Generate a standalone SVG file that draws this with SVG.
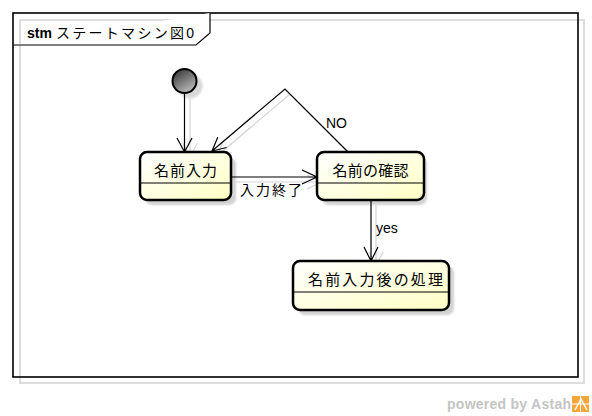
<svg xmlns="http://www.w3.org/2000/svg" width="592" height="416" viewBox="0 0 592 416">
<defs>
<linearGradient id="stFill" x1="0" y1="0" x2="1" y2="1">
<stop offset="0" stop-color="#ffffff"/>
<stop offset="1" stop-color="#ffffc4"/>
</linearGradient>
<linearGradient id="initFill" x1="0" y1="0" x2="0.6" y2="1">
<stop offset="0" stop-color="#2a2a2a"/>
<stop offset="1" stop-color="#b8b8b8"/>
</linearGradient>
<filter id="blur" x="-10%" y="-10%" width="130%" height="130%">
<feGaussianBlur stdDeviation="1"/>
</filter>
</defs>
<style>
.frame{fill:none;stroke:#000;stroke-width:1.6}
.frameShadow{fill:none;stroke:#dddddd;stroke-width:2}
.state{fill:url(#stFill);stroke:#000;stroke-width:2.5}
.shadow{fill:#d2d2d2;filter:url(#blur)}
.sep{stroke:#000;stroke-width:1.2}
.conn{fill:none;stroke:#000;stroke-width:1.2}
.connShadow{fill:none;stroke:#d4d4d4;stroke-width:1.2}
.jp{font-family:"Liberation Sans","Noto Sans CJK JP",sans-serif;font-size:15px;fill:#000}
.lbl{font-family:"Liberation Sans","Noto Sans CJK JP",sans-serif;font-size:14px;fill:#000}
</style>
<rect width="592" height="416" fill="#ffffff"/>
<g id="frame">
<rect class="frameShadow" x="20" y="20" width="564" height="363"/>
<rect class="frame" x="13" y="13" width="565" height="364"/>
<path d="M13,45 H196 L210,33 V13" fill="#ffffff" stroke="#000" stroke-width="1.2"/>
<text x="27" y="38" class="lbl" font-size="15" font-weight="bold" textLength="25" lengthAdjust="spacing">stm</text>
<text x="56" y="38" class="lbl" font-size="15" textLength="138" lengthAdjust="spacing">ステートマシン図0</text>
</g>
<g id="connector-shadows">
<path class="connShadow" d="M190,98 V157 M182.5,143 L190,157 L197.5,143"/>
<path class="connShadow" d="M236,182 H322 M307,175 L322,182 L307,189"/>
<path class="connShadow" d="M353,157 L290,94 L217,156 M231.6,152.5 L217,156 L222.8,142.2"/>
<path class="connShadow" d="M376,205 V266 M369,252 L376,266 L383,252"/>
</g>
<g id="initial">
<circle cx="190" cy="86" r="12.5" fill="#d8d8d8" filter="url(#blur)"/>
<circle cx="184.5" cy="81" r="12" fill="url(#initFill)" stroke="#000" stroke-width="2"/>
</g>
<g id="state-nyuryoku">
<rect class="shadow" x="145" y="157" width="91" height="48" rx="7"/>
<rect class="state" x="140" y="152" width="91" height="48" rx="7"/>
<line class="sep" x1="141" y1="183" x2="230" y2="183"/>
<text class="jp" x="185.5" y="176" text-anchor="middle" textLength="63" lengthAdjust="spacing">名前入力</text>
</g>
<g id="state-kakunin">
<rect class="shadow" x="322" y="157" width="105" height="48" rx="7"/>
<rect class="state" x="317" y="152" width="107" height="48" rx="7"/>
<line class="sep" x1="318" y1="183" x2="423" y2="183"/>
<text class="jp" x="370.5" y="176" text-anchor="middle" textLength="76" lengthAdjust="spacing">名前の確認</text>
</g>
<g id="state-shori">
<rect class="shadow" x="298" y="266" width="156" height="49" rx="7"/>
<rect class="state" x="293" y="261" width="156" height="49" rx="7"/>
<line class="sep" x1="294" y1="292" x2="448" y2="292"/>
<text class="jp" x="375.5" y="285" text-anchor="middle" textLength="135" lengthAdjust="spacing">名前入力後の処理</text>
</g>
<g id="connectors">
<path class="conn" d="M184.5,93 V152 M177,138 L184.5,152 L192,138"/>
<path class="conn" d="M231,177 H317 M302,170 L317,177 L302,184"/>
<text class="lbl" x="240" y="195" textLength="62" lengthAdjust="spacing">入力終了</text>
<path class="conn" d="M348,152 L285,89 L212,151 M226.6,147.5 L212,151 L217.8,137.2"/>
<text class="lbl" x="326" y="128">NO</text>
<path class="conn" d="M371,200 V261 M364,247 L371,261 L378,247"/>
<text class="lbl" x="376" y="233" font-size="14.5">yes</text>
</g>
<g id="watermark">
<text x="447" y="409" font-family="Liberation Sans, sans-serif" font-size="14" font-weight="bold" fill="#c4c4c4" textLength="124" lengthAdjust="spacing">powered by Astah</text>
<rect x="572" y="396" width="17" height="16" fill="#f4a63a"/>
<path d="M572,404 H589 M580.5,396 V412" stroke="#ffffff" stroke-width="1"/>
<path d="M575,410 L581,399 L587,410" fill="none" stroke="#ffffff" stroke-width="1.5"/>
</g>
</svg>
